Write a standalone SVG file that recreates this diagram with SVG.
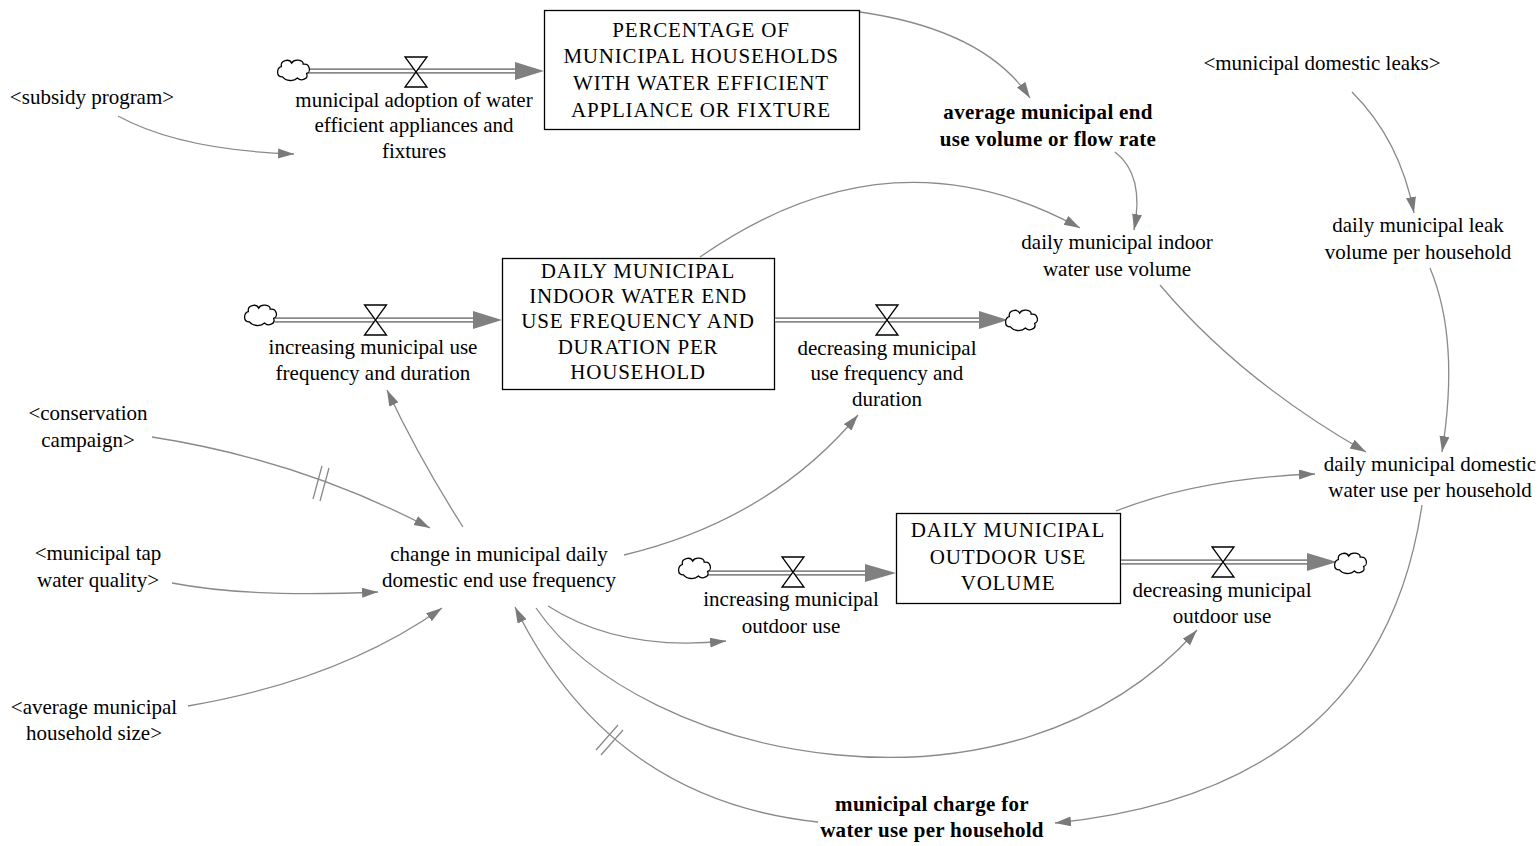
<svg xmlns="http://www.w3.org/2000/svg" width="1540" height="846" viewBox="0 0 1540 846">
  <style>
    text { font-family: "Liberation Serif", "Times New Roman", serif; font-size: 21px; fill: #000; text-anchor: middle; }
    .bold { font-weight: bold; letter-spacing: 0.3px; }
    .caps { letter-spacing: 0.8px; }
    .stock { fill: #fff; stroke: #000; stroke-width: 1.3; }
    .link { fill: none; stroke: #8a8a8a; stroke-width: 1.3; marker-end: url(#ah); }
    .delay { fill: none; stroke: #8a8a8a; stroke-width: 1.3; }
    .pipeOuter { stroke: #8a8a8a; stroke-width: 5.5; fill: none; }
    .pipeInner { stroke: #fff; stroke-width: 2; fill: none; }
    .flowHead { fill: #808080; }
    .valve { fill: #fff; stroke: #000; stroke-width: 1.3; }
    .cloud { fill: #fff; stroke: #000; stroke-width: 1.1; }
  </style>
  <defs>
    <marker id="ah" markerUnits="userSpaceOnUse" markerWidth="18" markerHeight="12" refX="16" refY="5" orient="auto">
      <path d="M0,0 L16,5 L0,10 Z" fill="#7a7a7a"/>
    </marker>
    <symbol id="cloudShape" overflow="visible">
      <path class="cloud" transform="scale(1.15)" d="M-10,6 C-16,6 -15,-2 -11,-3 C-12,-9 -4,-10 -2,-6 C0,-10 8,-9 8,-5 C14,-6 15,2 11,3 C13,8 6,10 3,7 C0,10 -7,10 -10,6 Z"/>
    </symbol>
    <path id="valveShape" class="valve" d="M-11,-15 H11 L-11,15 H11 Z"/>
  </defs>

  <!-- information links -->
  <g id="connectors">
    <path class="link" d="M118,116 Q180,150 294,154"/>
    <path class="link" d="M860,12 Q985,30 1030,98"/>
    <path class="link" d="M1115,152 Q1145,175 1134,230"/>
    <path class="link" d="M700,257 Q890,124 1080,228"/>
    <path class="link" d="M1352,92 Q1400,140 1414,213"/>
    <path class="link" d="M1430,268 Q1460,340 1442,452"/>
    <path class="link" d="M1160,285 Q1240,380 1366,452"/>
    <path class="link" d="M1116,511 Q1200,478 1315,474"/>
    <path class="link" d="M1422,505 Q1380,790 1055,823"/>
    <path class="link" d="M818,822 Q610,800 515,607"/>
    <path class="link" d="M152,437 Q300,460 430,528"/>
    <path class="link" d="M172,583 Q250,598 378,592"/>
    <path class="link" d="M188,706 Q340,680 442,608"/>
    <path class="link" d="M463,527 Q420,460 387,390"/>
    <path class="link" d="M624,555 Q770,520 858,415"/>
    <path class="link" d="M548,606 Q620,652 726,641"/>
    <path class="link" d="M536,608 C640,760 1010,840 1197,630"/>
    <!-- delay marks -->
    <path class="delay" d="M313,499 L322,466 M320,501 L329,468"/>
    <path class="delay" d="M596,750 L618,725 M601,755 L623,730"/>
  </g>

  <!-- flow: municipal adoption -->
  <g id="flow-adoption">
    <line class="pipeOuter" x1="307" y1="71" x2="518" y2="71"/>
    <line class="pipeInner" x1="307" y1="71" x2="518" y2="71"/>
    <path class="flowHead" d="M515,62 L544,71 L515,80 Z"/>
    <use href="#cloudShape" x="294" y="70"/>
    <use href="#valveShape" x="416" y="72"/>
    <text x="414" y="107">municipal adoption of water</text>
    <text x="414" y="132">efficient appliances and</text>
    <text x="414" y="158">fixtures</text>
  </g>

  <!-- stock: percentage of households -->
  <g id="stock-percentage">
    <rect class="stock" x="544.5" y="10.5" width="315" height="119"/>
    <text class="caps" x="701" y="37">PERCENTAGE OF</text>
    <text class="caps" x="701" y="63">MUNICIPAL HOUSEHOLDS</text>
    <text class="caps" x="701" y="90">WITH WATER EFFICIENT</text>
    <text class="caps" x="701" y="117">APPLIANCE OR FIXTURE</text>
  </g>

  <!-- flow: increasing use frequency -->
  <g id="flow-increasing-frequency">
    <line class="pipeOuter" x1="275" y1="320" x2="476" y2="320"/>
    <line class="pipeInner" x1="275" y1="320" x2="476" y2="320"/>
    <path class="flowHead" d="M473,311 L502,320 L473,329 Z"/>
    <use href="#cloudShape" x="261" y="315"/>
    <use href="#valveShape" x="375.5" y="320"/>
    <text x="373" y="354">increasing municipal use</text>
    <text x="373" y="380">frequency and duration</text>
  </g>

  <!-- stock: indoor end use -->
  <g id="stock-indoor">
    <rect class="stock" x="502.5" y="258.5" width="272" height="131"/>
    <text class="caps" x="638" y="278">DAILY MUNICIPAL</text>
    <text class="caps" x="638" y="303">INDOOR WATER END</text>
    <text class="caps" x="638" y="328">USE FREQUENCY AND</text>
    <text class="caps" x="638" y="354">DURATION PER</text>
    <text class="caps" x="638" y="379">HOUSEHOLD</text>
  </g>

  <!-- flow: decreasing use frequency -->
  <g id="flow-decreasing-frequency">
    <line class="pipeOuter" x1="775" y1="320" x2="982" y2="320"/>
    <line class="pipeInner" x1="775" y1="320" x2="982" y2="320"/>
    <path class="flowHead" d="M979,311 L1008,320 L979,329 Z"/>
    <use href="#cloudShape" x="1022" y="320"/>
    <use href="#valveShape" x="887" y="320"/>
    <text x="887" y="355">decreasing municipal</text>
    <text x="887" y="380">use frequency and</text>
    <text x="887" y="406">duration</text>
  </g>

  <!-- flow: increasing outdoor use -->
  <g id="flow-increasing-outdoor">
    <line class="pipeOuter" x1="708" y1="573" x2="868" y2="573"/>
    <line class="pipeInner" x1="708" y1="573" x2="868" y2="573"/>
    <path class="flowHead" d="M865,564 L896,573 L865,582 Z"/>
    <use href="#cloudShape" x="695" y="568"/>
    <use href="#valveShape" x="793" y="572"/>
    <text x="791" y="606">increasing municipal</text>
    <text x="791" y="633">outdoor use</text>
  </g>

  <!-- stock: outdoor use volume -->
  <g id="stock-outdoor">
    <rect class="stock" x="896.5" y="513.5" width="224" height="90"/>
    <text class="caps" x="1008" y="537">DAILY MUNICIPAL</text>
    <text class="caps" x="1008" y="564">OUTDOOR USE</text>
    <text class="caps" x="1008" y="590">VOLUME</text>
  </g>

  <!-- flow: decreasing outdoor use -->
  <g id="flow-decreasing-outdoor">
    <line class="pipeOuter" x1="1121" y1="562" x2="1310" y2="562"/>
    <line class="pipeInner" x1="1121" y1="562" x2="1310" y2="562"/>
    <path class="flowHead" d="M1307,553 L1337,562 L1307,571 Z"/>
    <use href="#cloudShape" x="1351" y="563"/>
    <use href="#valveShape" x="1223" y="562"/>
    <text x="1222" y="597">decreasing municipal</text>
    <text x="1222" y="623">outdoor use</text>
  </g>

  <!-- auxiliaries -->
  <g id="aux-subsidy"><text x="92" y="104">&lt;subsidy program&gt;</text></g>
  <g id="aux-average-end-use">
    <text class="bold" x="1048" y="119">average municipal end</text>
    <text class="bold" x="1048" y="146">use volume or flow rate</text>
  </g>
  <g id="aux-domestic-leaks"><text x="1322" y="70">&lt;municipal domestic leaks&gt;</text></g>
  <g id="aux-leak-volume">
    <text x="1418" y="232">daily municipal leak</text>
    <text x="1418" y="259">volume per household</text>
  </g>
  <g id="aux-indoor-volume">
    <text x="1117" y="249">daily municipal indoor</text>
    <text x="1117" y="276">water use volume</text>
  </g>
  <g id="aux-domestic-use">
    <text x="1430" y="471">daily municipal domestic</text>
    <text x="1430" y="497">water use per household</text>
  </g>
  <g id="aux-conservation">
    <text x="88" y="420">&lt;conservation</text>
    <text x="88" y="447">campaign&gt;</text>
  </g>
  <g id="aux-change-frequency">
    <text x="499" y="561">change in municipal daily</text>
    <text x="499" y="587">domestic end use frequency</text>
  </g>
  <g id="aux-tap-quality">
    <text x="98" y="560">&lt;municipal tap</text>
    <text x="98" y="587">water quality&gt;</text>
  </g>
  <g id="aux-household-size">
    <text x="94" y="714">&lt;average municipal</text>
    <text x="94" y="740">household size&gt;</text>
  </g>
  <g id="aux-charge">
    <text class="bold" x="932" y="811">municipal charge for</text>
    <text class="bold" x="932" y="837">water use per household</text>
  </g>
</svg>
